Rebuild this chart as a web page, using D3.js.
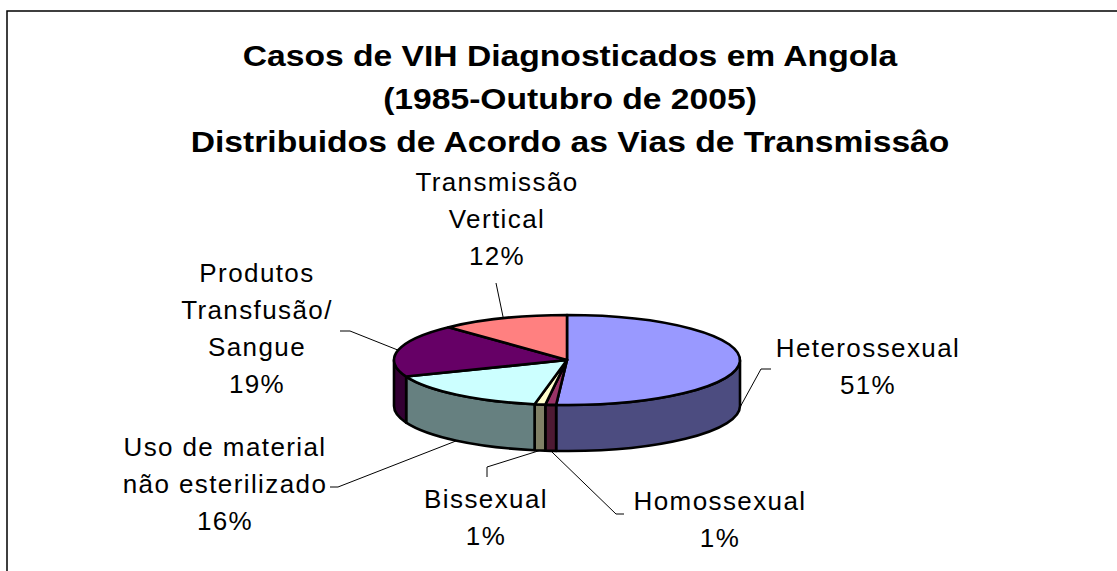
<!DOCTYPE html>
<html>
<head>
<meta charset="utf-8">
<script src="https://cdn.jsdelivr.net/npm/d3@7"></script>
<style>
  html, body { margin: 0; padding: 0; background: #fff; }
  svg { display: block; }
  .title { font-family: "Liberation Sans", Arial, sans-serif; font-weight: bold; font-size: 29px; }
  .lbl { font-family: "Liberation Sans", Arial, sans-serif; font-size: 26px; letter-spacing: 1.4px; }
</style>
</head>
<body>
<div id="chart"></div>
<script>
// data (percent of diagnosed cases)
const categories = ["Heterossexual", "Homossexual", "Bissexual",
    "Uso de material não esterilizado", "Produtos Transfusão/ Sangue", "Transmissão Vertical"];
const values = [51, 1, 1, 16, 19, 12];
const labelLines = [
    ["Heterossexual", "51%"],
    ["Homossexual", "1%"],
    ["Bissexual", "1%"],
    ["Uso de material", "não esterilizado", "16%"],
    ["Produtos", "Transfusão/", "Sangue", "19%"],
    ["Transmissão", "Vertical", "12%"]
];
const titleLines = ["Casos de VIH Diagnosticados em Angola", "(1985-Outubro de 2005)",
    "Distribuidos de Acordo as Vias de Transmissâo"];

// excel-ish palette: top face / side face
const topColors  = ["#9999FF", "#993366", "#FFFFCC", "#CCFFFF", "#660066", "#FF8080"];
const sideColors = ["#4C4C80", "#4D1A33", "#808066", "#668080", "#330033", "#804040"];

// label placement (dragged labels in the original)
const labelPos = [
    { x: 868, y: 357, elbow: [761, 369], end: [771, 369] },
    { x: 720, y: 510, elbow: [616, 514], end: [624, 514] },
    { x: 486, y: 508, elbow: [487, 467], end: [487, 477] },
    { x: 225, y: 456, elbow: [338, 487], end: [330, 487] },
    { x: 257, y: 282, elbow: [350, 331], end: [340, 331] },
    { x: 497, y: 191, elbow: null,       end: [496, 283] }
];

const W = 1117, H = 571;
const cx = 567, cy = 360, rx = 173, ry = 45, depth = 46;
const sy = ry / rx;
const lineH = 37;

const svg = d3.select("#chart").append("svg")
    .attr("width", W).attr("height", H);

// frame
svg.append("rect")
    .attr("x", 7).attr("y", 11)
    .attr("width", W + 20).attr("height", H + 20)
    .attr("fill", "none").attr("stroke", "#000").attr("stroke-width", 1.5);

// title (the source is a bit stretched sideways)
svg.append("text")
    .attr("class", "title")
    .attr("text-anchor", "middle")
    .attr("transform", "translate(570,0) scale(1.16,1)")
    .selectAll("tspan")
    .data(titleLines)
    .join("tspan")
    .attr("x", 0)
    .attr("y", (d, i) => 66 + i * 43)
    .text(d => d);

const pie = d3.pie().sort(null).value(d => d)
    .startAngle(0).endAngle(2 * Math.PI);
const slices = pie(values);

// pie drawn on a circle of radius rx and squashed vertically
const g = svg.append("g")
    .attr("transform", `translate(${cx},${cy}) scale(1,${sy})`);
const D = depth / sy;

function sidePath(a0, a1) {
    const s = Math.max(a0, Math.PI / 2), e = Math.min(a1, 3 * Math.PI / 2);
    if (e <= s) return null;
    const p = d3.path();
    p.moveTo(rx * Math.sin(s), -rx * Math.cos(s));
    p.arc(0, 0, rx, s - Math.PI / 2, e - Math.PI / 2, false);
    p.lineTo(rx * Math.sin(e), -rx * Math.cos(e) + D);
    p.arc(0, D, rx, e - Math.PI / 2, s - Math.PI / 2, true);
    p.closePath();
    return p.toString();
}

g.selectAll(".side")
    .data(slices.filter(d => sidePath(d.startAngle, d.endAngle)))
    .join("path")
    .attr("class", "side")
    .attr("d", d => sidePath(d.startAngle, d.endAngle))
    .attr("fill", d => sideColors[d.index])
    .attr("stroke", "#000")
    .attr("stroke-width", 2.6)
    .attr("stroke-linejoin", "round")
    .attr("vector-effect", "non-scaling-stroke");

const arc = d3.arc().innerRadius(0).outerRadius(rx);
g.selectAll(".top")
    .data(slices)
    .join("path")
    .attr("class", "top")
    .attr("d", arc)
    .attr("fill", d => topColors[d.index])
    .attr("stroke", "#000")
    .attr("stroke-width", 2.6)
    .attr("stroke-linejoin", "round")
    .attr("vector-effect", "non-scaling-stroke");

// leader lines: start at the slice's mid angle on the rim
function anchor(d) {
    const a = (d.startAngle + d.endAngle) / 2;
    const x = cx + rx * Math.sin(a);
    let y = cy - ry * Math.cos(a);
    if (Math.cos(a) < 0) y += depth;
    return [x, y];
}

svg.append("g").selectAll("polyline")
    .data(slices)
    .join("polyline")
    .attr("points", d => {
        const lp = labelPos[d.index];
        const pts = [anchor(d)];
        if (lp.elbow) pts.push(lp.elbow);
        pts.push(lp.end);
        return pts.map(p => p.join(",")).join(" ");
    })
    .attr("fill", "none")
    .attr("stroke", "#000")
    .attr("stroke-width", 1);

// labels
const labels = svg.append("g").selectAll("text")
    .data(slices)
    .join("text")
    .attr("class", "lbl")
    .attr("text-anchor", "middle");

labels.selectAll("tspan")
    .data(d => labelLines[d.index].map(t => ({ t, i: d.index })))
    .join("tspan")
    .attr("x", d => labelPos[d.i].x)
    .attr("y", (d, j) => labelPos[d.i].y + j * lineH)
    .text(d => d.t);
</script>
</body>
</html>
